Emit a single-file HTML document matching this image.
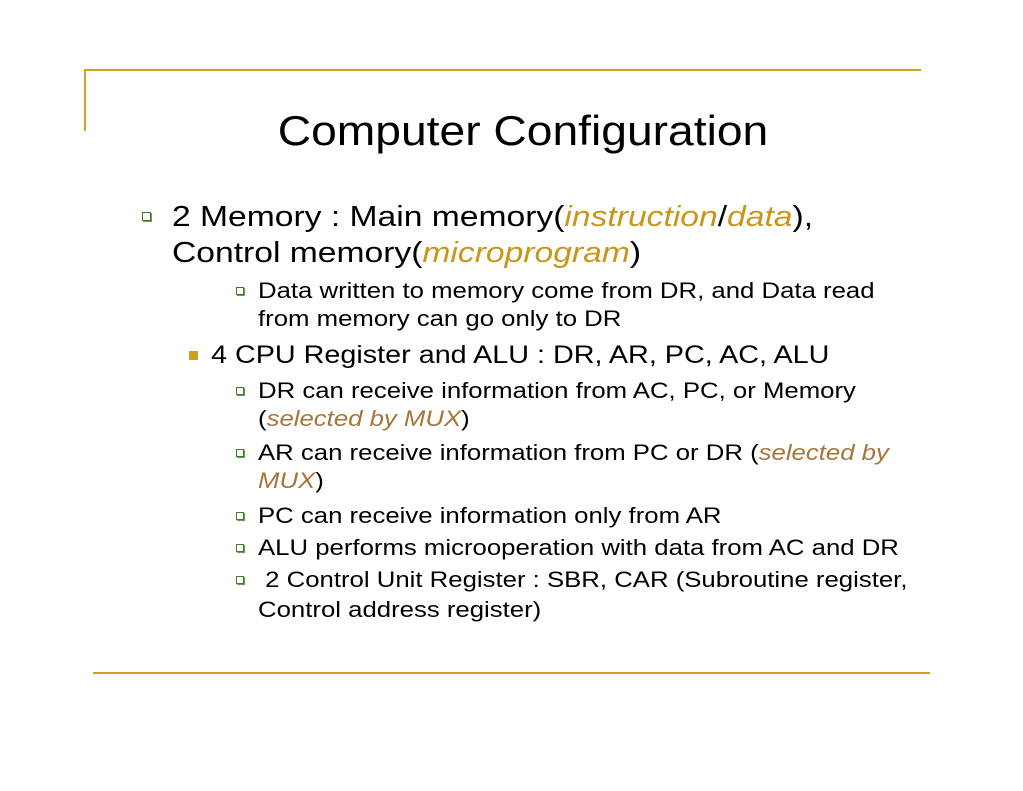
<!DOCTYPE html>
<html><head><meta charset="utf-8"><style>
body{margin:0;width:1023px;height:791px;background:#fff;position:relative;overflow:hidden;font-family:"Liberation Sans",sans-serif;color:#000}
.l{position:absolute;white-space:nowrap;transform-origin:0 50%}
.t{font-size:42px;line-height:42px;transform:scaleX(1.1);transform-origin:50% 50%}
.a{font-size:28.5px;line-height:30px;transform:scaleX(1.18)}
.b{font-size:25px;line-height:26px;transform:scaleX(1.15)}
.c{font-size:22px;line-height:24px;transform:scaleX(1.17)}
.g{color:#c8961a;font-style:italic}
.br{color:#a8743a;font-style:italic}
.q{position:absolute;border:1.5px solid #3d7a2e;background:#fff;box-shadow:1px 1px 0 #6a9a50}
.sq{position:absolute;background:#c9a020}
.h{position:absolute;background:#c9a227}
</style></head><body>
<div class="h" style="left:84px;top:69px;width:837px;height:2px"></div>
<div class="h" style="left:84px;top:69px;width:2px;height:62px"></div>
<div class="h" style="left:93px;top:672px;width:837px;height:2px"></div>
<div class="l t" style="left:0;width:1046px;text-align:center;top:110px">Computer Configuration</div>

<div class="q" style="left:142px;top:212px;width:7px;height:7px"></div>
<div class="l a" style="left:172px;top:202px">2 Memory : Main memory(<span class="g">instruction</span>/<span class="g">data</span>),</div>
<div class="l a" style="left:172px;top:238px">Control memory(<span class="g">microprogram</span>)</div>

<div class="q" style="left:236px;top:287px;width:6px;height:6px"></div>
<div class="l c" style="left:258px;top:279px">Data written to memory come from DR, and Data read</div>
<div class="l c" style="left:258px;top:307px">from memory can go only to DR</div>

<div class="sq" style="left:189px;top:351px;width:9px;height:9px"></div>
<div class="l b" style="left:211px;top:342px">4 CPU Register and ALU : DR, AR, PC, AC, ALU</div>

<div class="q" style="left:236px;top:387px;width:6px;height:6px"></div>
<div class="l c" style="left:258px;top:379px">DR can receive information from AC, PC, or Memory</div>
<div class="l c" style="left:258px;top:407px">(<span class="br">selected by MUX</span>)</div>

<div class="q" style="left:236px;top:449px;width:6px;height:6px"></div>
<div class="l c" style="left:258px;top:441px">AR can receive information from PC or DR (<span class="br">selected by</span></div>
<div class="l c" style="left:258px;top:469px"><span class="br">MUX</span>)</div>

<div class="q" style="left:236px;top:512px;width:6px;height:6px"></div>
<div class="l c" style="left:258px;top:504px">PC can receive information only from AR</div>

<div class="q" style="left:236px;top:544px;width:6px;height:6px"></div>
<div class="l c" style="left:258px;top:536px">ALU performs microoperation with data from AC and DR</div>

<div class="q" style="left:236px;top:576px;width:6px;height:6px"></div>
<div class="l c" style="left:258px;top:568px">&nbsp;2 Control Unit Register : SBR, CAR (Subroutine register,</div>
<div class="l c" style="left:258px;top:598px">Control address register)</div>
</body></html>
